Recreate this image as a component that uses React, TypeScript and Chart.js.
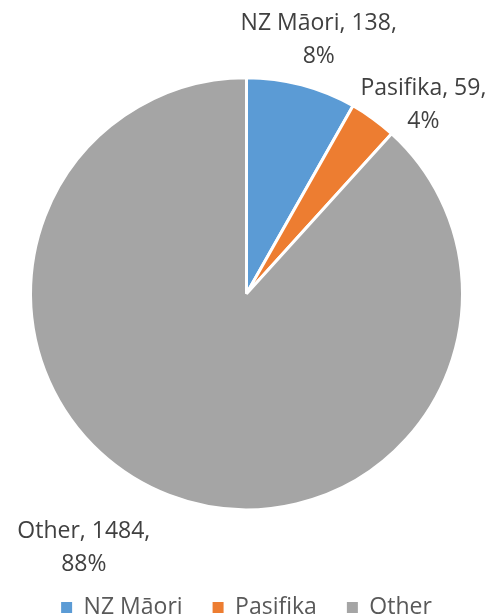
import React, { useEffect, useRef } from "react";
import { Chart, registerables } from "chart.js";

Chart.register(...registerables);

// ---- data ----
const categories = ["NZ Māori", "Pasifika", "Other"];
const counts = [138, 59, 1484];

// ---- style ----
const colors = ["#5B9BD5", "#ED7D31", "#A5A5A5"];
const FONT = '"Open Sans", "DejaVu Sans", sans-serif';
// label placement tweaks (outward gap in px, clockwise tilt in degrees)
const labelGap = [48, 43, 86];
const labelTilt = [1.1, 7.2, 11.5];

const labelPlugin = {
  id: "pieLabels",
  afterDatasetsDraw(chart: any) {
    const ctx = chart.ctx;
    const meta = chart.getDatasetMeta(0);
    const total = counts.reduce((a, b) => a + b, 0);
    ctx.save();
    ctx.font = `23px ${FONT}`;
    ctx.fillStyle = "#404040";
    ctx.textAlign = "center";
    ctx.textBaseline = "middle";
    meta.data.forEach((arc: any, i: number) => {
      const { x, y, startAngle, endAngle, outerRadius } = arc.getProps(
        ["x", "y", "startAngle", "endAngle", "outerRadius"],
        true
      );
      const mid = (startAngle + endAngle) / 2 + (labelTilt[i] * Math.PI) / 180;
      const r = outerRadius + labelGap[i];
      const cx = x + Math.cos(mid) * r;
      const cy = y + Math.sin(mid) * r;
      const pct = Math.round((counts[i] / total) * 100) + "%";
      ctx.fillText(`${categories[i]}, ${counts[i]},`, cx, cy - 16.5);
      ctx.fillText(pct, cx, cy + 16.5);
    });
    ctx.restore();
  },
};

export default function App() {
  const ref = useRef<HTMLCanvasElement | null>(null);

  useEffect(() => {
    if (!ref.current) return;
    const chart = new Chart(ref.current, {
      type: "pie",
      data: {
        labels: categories,
        datasets: [
          {
            data: counts,
            backgroundColor: colors,
            borderColor: "#FFFFFF",
            borderWidth: 3,
          },
        ],
      },
      options: {
        responsive: false,
        animation: false,
        devicePixelRatio: 1,
        layout: { padding: { left: 29, right: 31, top: 21.4, bottom: 0 } },
        plugins: {
          tooltip: { enabled: false },
          title: { display: false },
          legend: {
            display: true,
            position: "bottom",
            maxHeight: 50,
            labels: {
              boxWidth: 11,
              boxHeight: 11,
              padding: 30,
              color: "#595959",
              font: { family: FONT, size: 23 },
              generateLabels: (c: any) =>
                (Chart as any).overrides.pie.plugins.legend.labels
                  .generateLabels(c)
                  .map((l: any) => ({ ...l, lineWidth: 0, strokeStyle: "rgba(0,0,0,0)" })),
            },
          },
        },
      },
      plugins: [labelPlugin],
    });
    return () => chart.destroy();
  }, []);

  return (
    <div style={{ position: "fixed", left: 0, top: 0, width: 495, height: 616, background: "#fff" }}>
      <canvas ref={ref} width={495} height={616} style={{ width: 495, height: 616, display: "block" }} />
    </div>
  );
}
